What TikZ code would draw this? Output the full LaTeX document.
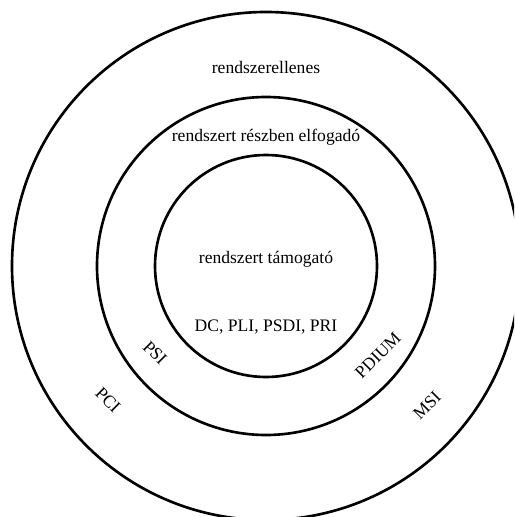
\documentclass[tikz,border=0pt]{standalone}
\usepackage{fontspec}
\setmainfont{Liberation Serif}
\usetikzlibrary{calc}
\tikzset{ring/.style={line width=1.5pt},
  lbl/.style={font=\fontsize{10}{12}\selectfont,inner sep=1pt}}

\begin{document}
\begin{tikzpicture}[x=0.02cm,y=-0.02cm]
\useasboundingbox (0,0) rectangle (514,517);
\begin{scope}
\clip (0,0) rectangle (514,517);
\coordinate (O) at (266,266);
\draw[ring] (O) circle (254);
\draw[ring] (O) circle (169);
\draw[ring] (O) circle (111);
\end{scope}
\node[lbl] (ellen) at (266,67) {rendszerellenes};
\node[lbl] (reszben) at (266,137) {rendszert részben elfogadó};
\node[lbl] (tamogat) at (266,259) {rendszert támogató};
\node[lbl] (belso) at (266,327) {DC, PLI, PSDI, PRI};
\node[lbl,rotate=-45] (psi) at (155,353) {PSI};
\node[lbl,rotate=-45] (pci) at (108,400) {PCI};
\node[lbl,rotate=45] (pdium) at (378,355) {PDIUM};
\node[lbl,rotate=45] (msi) at (427,405) {MSI};
\end{tikzpicture}
\end{document}
